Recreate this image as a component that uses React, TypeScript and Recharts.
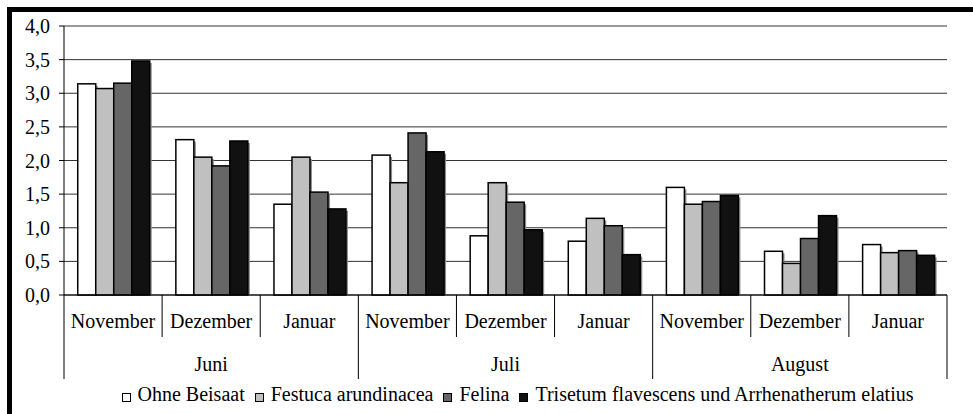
import React from 'react';
import { BarChart, Bar, XAxis, YAxis, CartesianGrid, Legend } from 'recharts';

const months = ['Juni', 'Juli', 'August'];
const subs = ['November', 'Dezember', 'Januar'];

const ohneBeisaat = [3.14, 2.31, 1.35, 2.08, 0.88, 0.8, 1.6, 0.65, 0.75];
const festuca = [3.07, 2.05, 2.05, 1.67, 1.67, 1.14, 1.35, 0.47, 0.63];
const felina = [3.15, 1.92, 1.53, 2.41, 1.38, 1.03, 1.39, 0.84, 0.66];
const trisetum = [3.48, 2.29, 1.28, 2.13, 0.97, 0.6, 1.48, 1.18, 0.59];

const yTicks = [0, 0.5, 1, 1.5, 2, 2.5, 3, 3.5, 4];

const series = [
  { key: 'ohne', name: 'Ohne Beisaat', color: '#ffffff', values: ohneBeisaat },
  { key: 'festuca', name: 'Festuca arundinacea', color: '#c0c0c0', values: festuca },
  { key: 'felina', name: 'Felina', color: '#666666', values: felina },
  { key: 'trisetum', name: 'Trisetum flavescens und Arrhenatherum elatius', color: '#111111', values: trisetum },
];

const data = months.flatMap((month, mi) =>
  subs.map((sub, si) => {
    const i = mi * subs.length + si;
    const row: Record<string, string | number> = { month, sub };
    series.forEach((s) => {
      row[s.key] = s.values[i];
    });
    return row;
  })
);

const W = 973;
const H = 414;
const FONT = "'Times New Roman', 'Liberation Serif', serif";
const FS = 20;
const margin = { top: 26, right: 26, left: 8, bottom: 9 };
const Y_W = 56;
const BAND = (W - margin.left - margin.right - Y_W) / data.length;

const fmt = (v: number) => v.toFixed(1).replace('.', ',');

const CategoryTick = (props: any) => {
  const { x, y, payload } = props;
  const i = payload.index;
  const left = x - BAND / 2;
  const right = x + BAND / 2;
  const groupStart = i % subs.length === 0;
  const isLast = i === data.length - 1;
  return (
    <g>
      <line x1={left} y1={y} x2={left} y2={y + (groupStart ? 84 : 42)} stroke="#000" />
      {isLast && <line x1={right} y1={y} x2={right} y2={y + 84} stroke="#000" />}
      <text x={x} y={y + 33} textAnchor="middle" fontFamily={FONT} fontSize={FS} fill="#000">
        {payload.value}
      </text>
      {i % subs.length === 1 && (
        <text x={x} y={y + 76} textAnchor="middle" fontFamily={FONT} fontSize={FS} fill="#000">
          {data[i].month}
        </text>
      )}
    </g>
  );
};

const YTick = (props: any) => {
  const { x, y, payload } = props;
  return (
    <text x={x} y={y} dy={7} textAnchor="end" fontFamily={FONT} fontSize={FS} fill="#000">
      {fmt(payload.value)}
    </text>
  );
};

// Bar with the small grey drop shadow seen on the right edge of the original bars
const ShadowBar = (props: any) => {
  const { x, y, width, height, fill } = props;
  if (!height || height <= 0) return null;
  return (
    <g>
      <rect x={x + 2} y={y + 2} width={width} height={Math.max(height - 2, 0)} fill="#8c8c8c" />
      <rect x={x} y={y} width={width} height={height} fill={fill} stroke="#000" strokeWidth={1.5} />
    </g>
  );
};

const LegendContent = () => (
  <div
    style={{
      display: 'flex',
      justifyContent: 'center',
      height: 22,
      paddingLeft: 62,
      fontFamily: FONT,
      fontSize: FS,
      lineHeight: '22px',
      color: '#000',
      whiteSpace: 'nowrap',
    }}
  >
    {series.map((s, idx) => (
      <span
        key={s.key}
        style={{ display: 'flex', alignItems: 'flex-start', marginRight: idx < series.length - 1 ? 10 : 0 }}
      >
        <span
          style={{
            display: 'inline-block',
            boxSizing: 'border-box',
            width: 9,
            height: 9,
            marginTop: 10,
            background: s.color,
            border: '1.5px solid #000',
            marginRight: 7,
          }}
        />
        {s.name}
      </span>
    ))}
  </div>
);

export default function App() {
  return (
    <div
      style={{
        position: 'absolute',
        left: 0,
        top: 0,
        width: W,
        height: H,
        overflow: 'hidden',
        background: '#fff',
        fontFamily: FONT,
      }}
    >
      <div
        style={{
          position: 'absolute',
          left: 7,
          top: 7,
          width: 1000,
          height: 450,
          border: '5px solid #000',
          boxSizing: 'border-box',
        }}
      />
      <div style={{ position: 'absolute', left: 0, top: 0 }}>
        <BarChart width={W} height={H} data={data} margin={margin} barCategoryGap="14%" barGap={0}>
          <CartesianGrid horizontal vertical={false} stroke="#333" strokeOpacity={1} />
          <XAxis
            dataKey="sub"
            interval={0}
            tickLine={false}
            tickSize={0}
            tickMargin={0}
            height={88}
            axisLine={{ stroke: '#000' }}
            tick={(p: any) => <CategoryTick {...p} />}
          />
          <YAxis
            width={Y_W}
            domain={[0, 4]}
            ticks={yTicks}
            tickSize={5}
            tickMargin={9}
            axisLine={{ stroke: '#000' }}
            tickLine={{ stroke: '#000' }}
            tick={(p: any) => <YTick {...p} />}
          />
          <YAxis
            yAxisId="r"
            orientation="right"
            width={0}
            domain={[0, 4]}
            tick={false}
            tickLine={false}
            axisLine={{ stroke: '#000' }}
          />
          <Legend
            verticalAlign="bottom"
            wrapperStyle={{ left: 0, width: W }}
            content={<LegendContent />}
          />
          {series.map((s) => (
            <Bar
              key={s.key}
              dataKey={s.key}
              name={s.name}
              fill={s.color}
              shape={<ShadowBar />}
              isAnimationActive={false}
            />
          ))}
        </BarChart>
      </div>
    </div>
  );
}
